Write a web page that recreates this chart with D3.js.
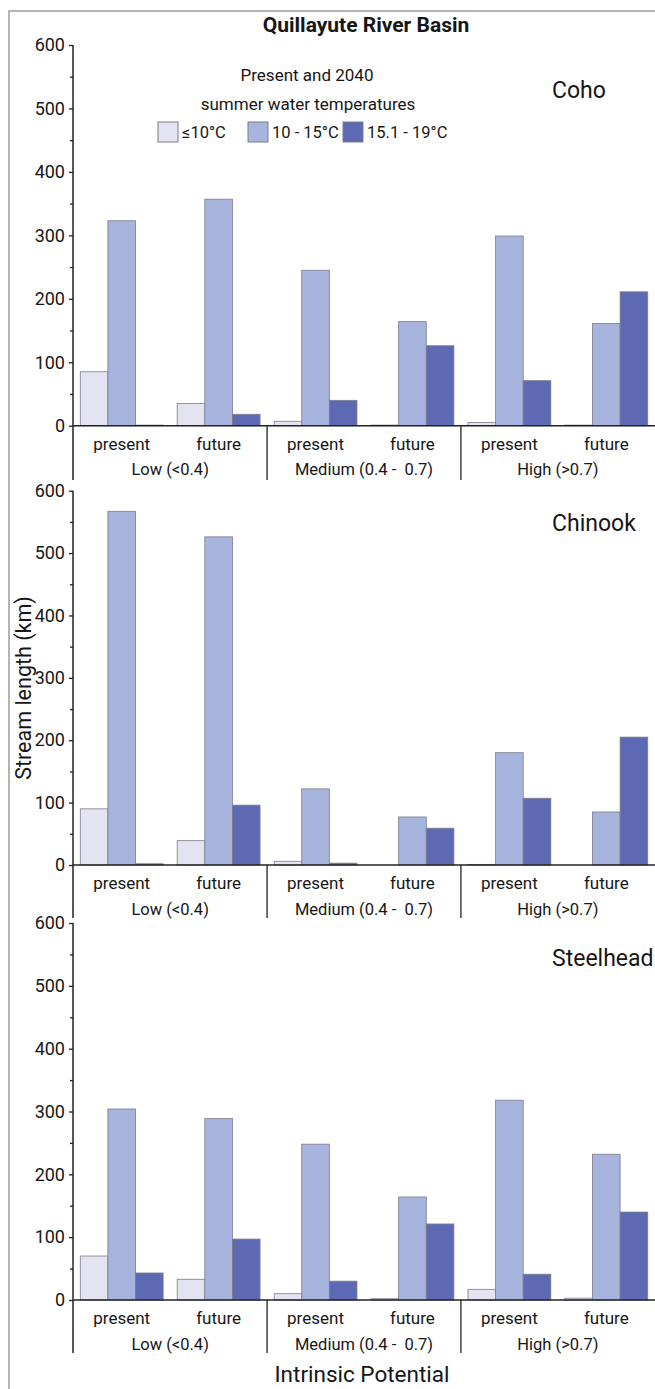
<!DOCTYPE html>
<html>
<head>
<meta charset="utf-8">
<script src="https://cdn.jsdelivr.net/npm/d3@7"></script>
<style>
  body { margin: 0; background: #fff; }
  text { font-family: "Roboto", "Liberation Sans", sans-serif; fill: #161616; }
</style>
</head>
<body>
<script>
// categories
var groups = ["Low (<0.4)", "Medium (0.4 -  0.7)", "High (>0.7)"];
var periods = ["present", "future"];
var tempClasses = ["≤10°C", "10 - 15°C", "15.1 - 19°C"];
var yTicks = [0, 100, 200, 300, 400, 500, 600];

// stream length (km), order: low present, low future, med present, med future, high present, high future
var cohoCold = [85, 35, 7, 1, 5, 1];
var cohoCool = [323, 357, 245, 164, 299, 161];
var cohoWarm = [1, 18, 40, 126, 71, 211];

var chinookCold = [90, 39, 6, 0, 1, 0];
var chinookCool = [567, 526, 122, 77, 180, 85];
var chinookWarm = [2, 96, 3, 59, 107, 205];

var steelheadCold = [70, 33, 10, 2, 17, 3];
var steelheadCool = [304, 289, 248, 164, 318, 232];
var steelheadWarm = [43, 97, 30, 121, 41, 140];

var colors = ["#e3e3f1", "#a7b4de", "#5d6ab3"];

var width = 655, height = 1389;
var svg = d3.select("body").append("svg")
  .attr("width", width)
  .attr("height", height);

// grey frame
svg.append("rect")
  .attr("x", 9).attr("y", 11)
  .attr("width", 700).attr("height", 1400)
  .attr("fill", "none").attr("stroke", "#9c9c9c").attr("stroke-width", 1.5);

var axisX = 73;
var x0 = d3.scaleBand().domain(d3.range(6)).range([axisX, 655])
  .paddingInner(0.145).paddingOuter(0.075);
var x1 = d3.scaleBand().domain(d3.range(3)).range([0, x0.bandwidth()]);

var panels = [
  { name: "Coho", series: [cohoCold, cohoCool, cohoWarm], top: 45, base: 425.7, end: 480, nameY: 98 },
  { name: "Chinook", series: [chinookCold, chinookCool, chinookWarm], top: 490.7, base: 865, end: 918, nameY: 531 },
  { name: "Steelhead", series: [steelheadCold, steelheadCool, steelheadWarm], top: 923, base: 1300, end: 1353, nameY: 966 }
];

panels.forEach(function(p) {
  var g = svg.append("g");
  var y = d3.scaleLinear().domain([0, 600]).range([p.base, p.top]);

  // bars
  p.series.forEach(function(vals, k) {
    g.selectAll("rect.s" + k)
      .data(vals)
      .enter().append("rect")
      .attr("class", "s" + k)
      .attr("x", function(d, i) { return x0(i) + x1(k); })
      .attr("y", function(d) { return y(d); })
      .attr("width", x1.bandwidth())
      .attr("height", function(d) { return p.base - y(d); })
      .attr("fill", colors[k])
      .attr("stroke", "#7d7d8c")
      .attr("stroke-width", 0.8);
  });

  // minor ticks
  var minor = g.append("g").attr("transform", "translate(" + axisX + ",0)")
    .call(d3.axisLeft(y).tickValues([50, 150, 250, 350, 450, 550]).tickSize(3).tickFormat(""));
  minor.select(".domain").remove();
  minor.selectAll("line").attr("stroke", "#222").attr("stroke-width", 1.3);

  // major ticks
  var ax = g.append("g").attr("transform", "translate(" + axisX + ",0)")
    .call(d3.axisLeft(y).tickValues(yTicks).tickSize(4).tickPadding(4).tickFormat(d3.format("d")));
  ax.select(".domain").remove();
  ax.selectAll("line").attr("stroke", "#222").attr("stroke-width", 1.3);
  ax.selectAll("text").attr("font-size", 18).attr("fill", "#161616")
    .style("font-family", "Roboto, 'Liberation Sans', sans-serif");

  // y axis line running down past the labels
  g.append("line")
    .attr("x1", axisX).attr("x2", axisX)
    .attr("y1", p.top).attr("y2", p.end)
    .attr("stroke", "#222").attr("stroke-width", 1.5);

  // baseline
  g.append("line")
    .attr("x1", axisX).attr("x2", 655)
    .attr("y1", p.base).attr("y2", p.base)
    .attr("stroke", "#222").attr("stroke-width", 1.5);

  // group dividers
  [2, 4].forEach(function(i) {
    var xd = (x0(i - 1) + x0.bandwidth() + x0(i)) / 2;
    g.append("line")
      .attr("x1", xd).attr("x2", xd)
      .attr("y1", p.base).attr("y2", p.end)
      .attr("stroke", "#222").attr("stroke-width", 1.3);
  });

  // present / future labels
  g.selectAll("text.per")
    .data(d3.range(6))
    .enter().append("text")
    .attr("class", "per")
    .attr("x", function(i) { return x0(i) + x0.bandwidth() / 2; })
    .attr("y", p.base + 18)
    .attr("dy", "0.35em")
    .attr("text-anchor", "middle")
    .attr("font-size", 17)
    .text(function(i) { return periods[i % 2]; });

  // group labels
  g.selectAll("text.grp")
    .data(groups)
    .enter().append("text")
    .attr("class", "grp")
    .attr("x", function(d, j) { return (x0(2 * j) + x0(2 * j + 1) + x0.bandwidth()) / 2; })
    .attr("y", p.base + 44)
    .attr("dy", "0.35em")
    .attr("text-anchor", "middle")
    .attr("font-size", 16.5)
    .style("white-space", "pre")
    .text(function(d) { return d; });

  // species name
  g.append("text")
    .attr("x", 552).attr("y", p.nameY)
    .attr("font-size", 23)
    .text(p.name);
});

// title
svg.append("text")
  .attr("x", 366).attr("y", 32)
  .attr("text-anchor", "middle")
  .attr("font-size", 21).attr("font-weight", "bold")
  .text("Quillayute River Basin");

// legend
svg.append("text").attr("x", 307).attr("y", 81).attr("text-anchor", "middle")
  .attr("font-size", 17).text("Present and 2040");
svg.append("text").attr("x", 308).attr("y", 110).attr("text-anchor", "middle")
  .attr("font-size", 17).text("summer water temperatures");

var legX = [158, 248, 343];
var leg = svg.selectAll("g.leg")
  .data(tempClasses)
  .enter().append("g")
  .attr("class", "leg")
  .attr("transform", function(d, i) { return "translate(" + legX[i] + ",122)"; });
leg.append("rect")
  .attr("width", 20).attr("height", 20)
  .attr("fill", function(d, i) { return colors[i]; })
  .attr("stroke", "#7d7d8c").attr("stroke-width", 1);
leg.append("text")
  .attr("x", 24).attr("y", 10).attr("dy", "0.35em")
  .attr("font-size", 16.5)
  .text(function(d) { return d; });

// axis titles
svg.append("text")
  .attr("transform", "translate(31,688) rotate(-90)")
  .attr("text-anchor", "middle")
  .attr("font-size", 21.5)
  .text("Stream length (km)");

svg.append("text")
  .attr("x", 362).attr("y", 1382)
  .attr("text-anchor", "middle")
  .attr("font-size", 22.5)
  .text("Intrinsic Potential");
</script>
</body>
</html>
